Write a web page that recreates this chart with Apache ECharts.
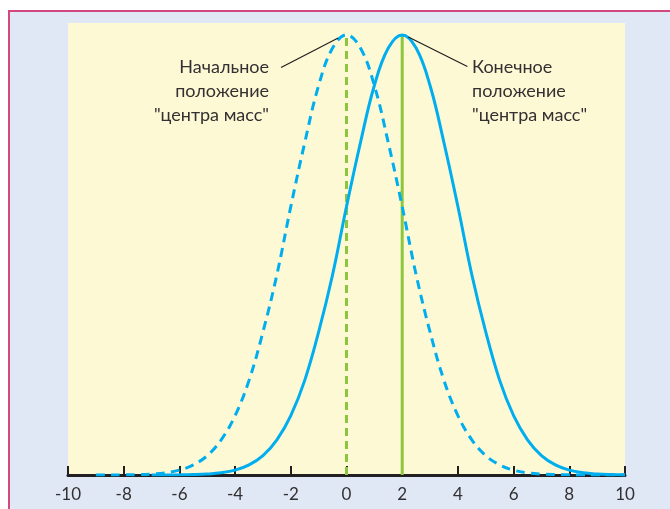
<!DOCTYPE html>
<html>
<head>
<meta charset="utf-8">
<script src="https://cdn.jsdelivr.net/npm/echarts@6/dist/echarts.min.js"></script>
<style>
  html, body { margin: 0; padding: 0; background: #ffffff; }
  #chart { width: 670px; height: 509px; }
</style>
</head>
<body>
<div id="chart"></div>
<script>
// Tick labels on the position axis
const xTicks = [-10, -8, -6, -4, -2, 0, 2, 4, 6, 8, 10];

// Initial distribution (centred at 0), sampled every 0.5
const initialX = [-9, -8.5, -8, -7.5, -7, -6.5, -6, -5.5, -5, -4.5, -4, -3.5, -3, -2.5, -2, -1.5, -1, -0.5,
  0, 0.5, 1, 1.5, 2, 2.5, 3, 3.5, 4, 4.5, 5, 5.5, 6, 6.5, 7, 7.5, 8, 8.5, 9, 9.5, 10];
const initialY = [0, 0.01, 0.03, 0.09, 0.22, 0.5, 1.1, 2.3, 4.4, 8, 13.5, 21.5, 32.5, 45.5, 61, 75.5, 88.5, 97,
  100, 97, 88.5, 75.5, 61, 45.5, 32.5, 21.5, 13.5, 8, 4.4, 2.3, 1.1, 0.5, 0.22, 0.09, 0.03, 0.01, 0, 0, 0];

// Final distribution (centred at 2), sampled every 0.5
const finalX = [-7, -6.5, -6, -5.5, -5, -4.5, -4, -3.5, -3, -2.5, -2, -1.5, -1, -0.5, 0, 0.5, 1, 1.5,
  2, 2.5, 3, 3.5, 4, 4.5, 5, 5.5, 6, 6.5, 7, 7.5, 8, 8.5, 9, 9.5, 10];
const finalY = [0, 0.01, 0.03, 0.09, 0.22, 0.5, 1.1, 2.3, 4.4, 8, 13.5, 21.5, 32.5, 45.5, 61, 75.5, 88.5, 97,
  100, 97, 88.5, 75.5, 61, 45.5, 32.5, 21.5, 13.5, 8, 4.4, 2.3, 1.1, 0.5, 0.22, 0.09, 0.03];

// Centre-of-mass markers
const initialCentre = 0;
const finalCentre = 2;
const peakValue = 100;

// Leader lines from each peak to its caption: [x, y] pairs
const initialLeader = [[-0.3, 99.3], [-2.35, 92.6]];
const finalLeader = [[2.22, 99.5], [4.34, 92.8]];

// Caption texts
const initialCaption = ['Начальное', 'положение', '"центра масс"'];
const finalCaption = ['Конечное', 'положение', '"центра масс"'];

const BLUE = '#00aeef';
const GREEN = '#8cc63f';
const FONT = 'Lato, "Open Sans", sans-serif';

const zip = (xs, ys) => xs.map((x, i) => [x, ys[i]]);

const chart = echarts.init(document.getElementById('chart'));
chart.setOption({
  backgroundColor: '#e0e7f5',
  animation: false,
  grid: {
    left: 68, right: 45, top: 23, bottom: 34,
    show: true, backgroundColor: '#fdf9d5', borderWidth: 0
  },
  xAxis: {
    type: 'value', min: -10, max: 10, interval: 2,
    axisLine: { lineStyle: { color: '#231f20', width: 3 } },
    axisTick: { inside: true, length: 9, lineStyle: { color: '#231f20', width: 2 } },
    axisLabel: {
      color: '#333031', fontSize: 17, fontFamily: FONT, margin: 11,
      formatter: v => (xTicks.includes(v) ? String(v) : '')
    },
    splitLine: { show: false }
  },
  yAxis: {
    type: 'value', min: 0, max: 102.7, show: false,
    splitLine: { show: false }
  },
  graphic: [
    // white margin strips and the pink frame lines
    { type: 'rect', shape: { x: 0, y: 0, width: 670, height: 10 }, style: { fill: '#ffffff' }, silent: true },
    { type: 'rect', shape: { x: 0, y: 0, width: 8, height: 509 }, style: { fill: '#ffffff' }, silent: true },
    { type: 'line', shape: { x1: 8, y1: 11, x2: 670, y2: 11 }, style: { stroke: '#d2497f', lineWidth: 2 }, silent: true },
    { type: 'line', shape: { x1: 9, y1: 10, x2: 9, y2: 509 }, style: { stroke: '#d2497f', lineWidth: 2 }, silent: true },
    // captions
    {
      type: 'text', x: 269, y: 55, z: 10,
      style: {
        text: initialCaption.join('\n'), align: 'right', verticalAlign: 'top',
        fill: '#333031', font: '18px ' + FONT, lineHeight: 24
      }
    },
    {
      type: 'text', x: 472, y: 55, z: 10,
      style: {
        text: finalCaption.join('\n'), align: 'left', verticalAlign: 'top',
        fill: '#333031', font: '18px ' + FONT, lineHeight: 24
      }
    }
  ],
  series: [
    {
      name: 'initial centre', type: 'line', symbol: 'none', z: 2,
      data: [[initialCentre, 0], [initialCentre, peakValue]],
      lineStyle: { color: GREEN, width: 3, type: [8, 5] }
    },
    {
      name: 'final centre', type: 'line', symbol: 'none', z: 2,
      data: [[finalCentre, 0], [finalCentre, peakValue]],
      lineStyle: { color: GREEN, width: 3 }
    },
    {
      name: 'initial', type: 'line', symbol: 'none', smooth: 0.4, z: 3,
      data: zip(initialX, initialY),
      lineStyle: { color: BLUE, width: 3, type: [9, 6] }
    },
    {
      name: 'final', type: 'line', symbol: 'none', smooth: 0.4, z: 3,
      data: zip(finalX, finalY),
      lineStyle: { color: BLUE, width: 3 }
    },
    {
      name: 'initial leader', type: 'line', symbol: 'none', z: 4,
      data: initialLeader,
      lineStyle: { color: '#231f20', width: 1.2 }
    },
    {
      name: 'final leader', type: 'line', symbol: 'none', z: 4,
      data: finalLeader,
      lineStyle: { color: '#231f20', width: 1.2 }
    }
  ]
});
</script>
</body>
</html>
